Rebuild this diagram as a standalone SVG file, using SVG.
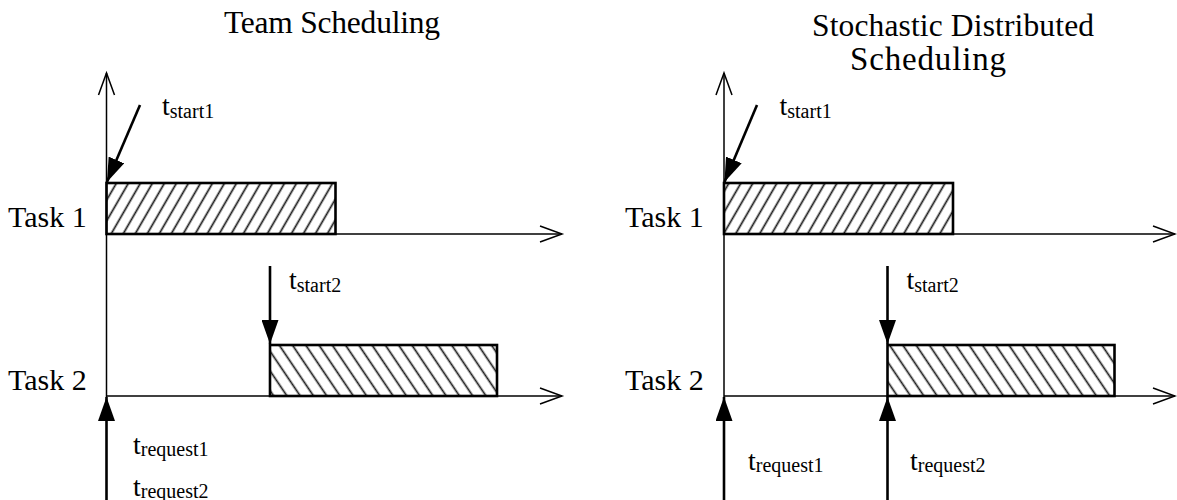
<svg xmlns="http://www.w3.org/2000/svg" width="1177" height="500" viewBox="0 0 1177 500">
  <style>
    text { font-family: "Liberation Serif", "Times New Roman", serif; fill: #000; }
    .title { font-size: 31.5px; }
    .task { font-size: 30px; }
    .t { font-size: 28px; }
    .sub { font-size: 20px; }
    .axis { stroke: #000; stroke-width: 1.5; fill: none; marker-end: url(#open); }
    .event { stroke: #000; stroke-width: 2.6; fill: none; marker-end: url(#solid); }
    .bar { stroke: #000; stroke-width: 2.6; }
  </style>
  <defs>
    <!-- open chevron for time axes -->
    <marker id="open" markerUnits="userSpaceOnUse" viewBox="0 0 24 18" refX="23" refY="9" markerWidth="24" markerHeight="18" orient="auto" overflow="visible">
      <path d="M1,1 L23,9 L1,17" fill="none" stroke="#000" stroke-width="1.5"/>
    </marker>
    <!-- solid head for start / request events -->
    <marker id="solid" markerUnits="userSpaceOnUse" viewBox="0 0 24 17" refX="24" refY="8.5" markerWidth="24" markerHeight="17" orient="auto">
      <path d="M0,0 L24,8.5 L0,17 Z" fill="#000"/>
    </marker>
    <pattern id="hatchFwd" patternUnits="userSpaceOnUse" width="10.4" height="10" patternTransform="rotate(30)">
      <rect width="10.4" height="10" fill="#fff"/>
      <line x1="5.2" y1="-1" x2="5.2" y2="11" stroke="#1a1a1a" stroke-width="1.7"/>
    </pattern>
    <pattern id="hatchBack" patternUnits="userSpaceOnUse" width="11" height="10" patternTransform="rotate(-34)">
      <rect width="11" height="10" fill="#fff"/>
      <line x1="5.5" y1="-1" x2="5.5" y2="11" stroke="#1a1a1a" stroke-width="1.7"/>
    </pattern>
  </defs>

  <!-- ===== Left panel: team scheduling ===== -->
  <g id="title-team">
    <text class="title" x="224" y="33" textLength="216" lengthAdjust="spacing">Team Scheduling</text>
  </g>
  <g id="task1-left"><text class="task" x="8" y="227">Task 1</text></g>
  <g id="task2-left"><text class="task" x="8" y="390">Task 2</text></g>
  <g id="bar1-left"><rect class="bar" x="106.5" y="183" width="229" height="51" fill="url(#hatchFwd)"/></g>
  <g id="bar2-left"><rect class="bar" x="270" y="345" width="227" height="51" fill="url(#hatchBack)"/></g>
  <g id="start1-left"><text x="162" y="115"><tspan class="t">t</tspan><tspan class="sub" dy="3">start1</tspan></text></g>
  <g id="start2-left"><text x="289" y="289"><tspan class="t">t</tspan><tspan class="sub" dy="3">start2</tspan></text></g>
  <g id="request1-left"><text x="133" y="454"><tspan class="t">t</tspan><tspan class="sub" dy="2">request1</tspan></text></g>
  <g id="request2-left"><text x="133" y="496"><tspan class="t">t</tspan><tspan class="sub" dy="2">request2</tspan></text></g>

  <!-- ===== Right panel: stochastic distributed scheduling ===== -->
  <g id="title-stochastic">
    <text class="title" x="812" y="36" textLength="282" lengthAdjust="spacing">Stochastic Distributed</text>
    <text class="title" x="850" y="70" style="font-size:33px" textLength="156" lengthAdjust="spacing">Scheduling</text>
  </g>
  <g id="task1-right"><text class="task" x="625" y="227">Task 1</text></g>
  <g id="task2-right"><text class="task" x="625" y="390">Task 2</text></g>
  <g id="bar1-right"><rect class="bar" x="724" y="183" width="229" height="51" fill="url(#hatchFwd)"/></g>
  <g id="bar2-right"><rect class="bar" x="887.5" y="345" width="227" height="51" fill="url(#hatchBack)"/></g>
  <g id="start1-right"><text x="779.5" y="115"><tspan class="t">t</tspan><tspan class="sub" dy="3">start1</tspan></text></g>
  <g id="start2-right"><text x="906.5" y="289"><tspan class="t">t</tspan><tspan class="sub" dy="3">start2</tspan></text></g>
  <g id="request1-right"><text x="748" y="470"><tspan class="t">t</tspan><tspan class="sub" dy="2">request1</tspan></text></g>
  <g id="request2-right"><text x="910" y="470"><tspan class="t">t</tspan><tspan class="sub" dy="2">request2</tspan></text></g>

  <!-- ===== Connectors: axes and event arrows ===== -->
  <g id="connectors">
    <!-- left axes -->
    <line class="axis" x1="106.5" y1="397" x2="106.5" y2="73"/>
    <line class="axis" x1="106.5" y1="234" x2="562" y2="234"/>
    <line class="axis" x1="106.5" y1="396" x2="562" y2="396"/>
    <!-- left events -->
    <line class="event" x1="140" y1="105" x2="107" y2="182"/>
    <line class="event" x1="270" y1="266" x2="270" y2="344"/>
    <line class="event" x1="106.5" y1="500" x2="106.5" y2="397"/>
    <!-- right axes -->
    <line class="axis" x1="724" y1="397" x2="724" y2="73"/>
    <line class="axis" x1="724" y1="234" x2="1175" y2="234"/>
    <line class="axis" x1="724" y1="396" x2="1175" y2="396"/>
    <!-- right events -->
    <line class="event" x1="757" y1="105" x2="724.5" y2="182"/>
    <line class="event" x1="887.5" y1="266" x2="887.5" y2="344"/>
    <line class="event" x1="724" y1="500" x2="724" y2="397"/>
    <line class="event" x1="887.5" y1="500" x2="887.5" y2="397"/>
  </g>
</svg>
